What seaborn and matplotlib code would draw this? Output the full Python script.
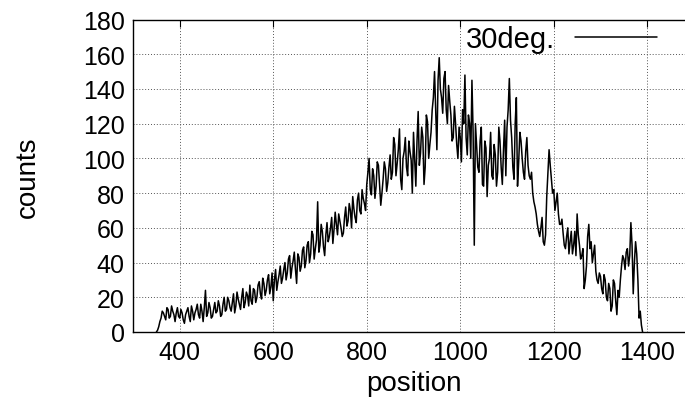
import numpy as np
import pandas as pd
import matplotlib
matplotlib.use("Agg")
import matplotlib.pyplot as plt
import seaborn as sns

# Measured counts for the 30 degree run.
# counts_a are the channels at 350, 355, ..., 1390;
# counts_b are the channels in between at 352.5, 357.5, ..., 1387.5.
positions_a = list(np.arange(350, 1391, 5.0))
counts_a = [
    0, 3, 8, 11, 7, 13, 9, 12, 6, 14,            # 350-395
    8, 11, 5, 12, 9, 15, 7, 13, 10, 16,          # 400-445
    6, 24, 11, 14, 9, 17, 12, 15, 10, 20,        # 450-495
    13, 18, 12, 22, 15, 19, 13, 25, 17, 21,      # 500-545
    27, 16, 24, 20, 29, 19, 28, 24, 33, 26,      # 550-595
    18, 36, 29, 38, 31, 40, 34, 44, 37, 46,      # 600-645
    28, 43, 38, 49, 41, 52, 45, 56, 48, 75,      # 650-695
    50, 58, 44, 63, 55, 66, 59, 62, 68, 60,      # 700-745
    57, 72, 64, 70, 78, 66, 76, 70, 82, 74,      # 750-795
    85, 100, 79, 90, 84, 96, 73, 88, 94, 86,     # 800-845
    102, 92, 108, 97, 117, 82, 104, 95, 110, 99, # 850-895
    115, 84, 127, 103, 112, 95, 121, 108, 128, 150,   # 900-945
    105, 158, 135, 146, 128, 142, 125, 112, 120, 100, # 950-995
    112, 128, 148, 102, 120, 145, 50, 108, 92, 118,   # 1000-1045
    84, 106, 96, 115, 88, 102, 92, 110, 85, 122,      # 1050-1095
    118, 146, 112, 88, 135, 98, 110, 92, 104, 96,     # 1100-1145
    88, 80, 72, 62, 55, 66, 50, 78, 105, 88,          # 1150-1195
    82, 75, 68, 62, 57, 48, 60, 52, 45, 58,           # 1200-1245
    68, 50, 44, 25, 38, 62, 52, 45, 35, 28,           # 1250-1295
    32, 22, 30, 18, 25, 15, 28, 10, 20, 38,           # 1300-1345
    42, 46, 38, 63, 22, 52, 30, 12, 0,                # 1350-1390
]
positions_b = list(np.arange(352.5, 1388, 5.0))
counts_b = [
    1, 6, 12, 9, 14, 8, 15, 10, 11, 9,           # 352.5-397.5
    13, 7, 10, 14, 6, 12, 11, 16, 8, 12,         # 402.5-447.5
    14, 9, 17, 8, 13, 11, 18, 9, 16, 12,         # 452.5-497.5
    20, 14, 17, 11, 23, 16, 20, 14, 23, 15,      # 502.5-547.5
    18, 25, 17, 27, 22, 31, 21, 30, 22, 34,      # 552.5-597.5
    30, 24, 33, 28, 36, 30, 42, 31, 41, 36,      # 602.5-647.5
    45, 35, 47, 37, 50, 40, 58, 42, 53, 46,      # 652.5-697.5
    62, 49, 56, 52, 60, 51, 69, 56, 64, 55,      # 702.5-747.5
    66, 61, 74, 60, 71, 63, 80, 68, 77, 70,      # 752.5-797.5
    92, 82, 94, 77, 98, 85, 80, 98, 81, 95,      # 802.5-847.5
    88, 112, 90, 105, 88, 100, 112, 90, 104, 80, # 852.5-897.5
    100, 110, 96, 118, 85, 125, 100, 115, 135, 128,   # 902.5-947.5
    145, 140, 126, 150, 120, 133, 110, 130, 108, 118, # 952.5-997.5
    98, 120, 112, 125, 100, 115, 120, 95, 110, 85,    # 1002.5-1047.5
    110, 78, 100, 90, 108, 84, 118, 95, 105, 90,      # 1052.5-1097.5
    128, 122, 95, 120, 84, 115, 100, 88, 112, 90,     # 1102.5-1147.5
    92, 75, 68, 58, 60, 52, 56, 92, 96, 80,           # 1152.5-1197.5
    70, 80, 62, 65, 50, 55, 45, 58, 50, 44,           # 1202.5-1247.5
    56, 42, 48, 30, 55, 48, 40, 50, 30, 34,           # 1252.5-1297.5
    25, 33, 20, 28, 12, 30, 18, 24, 30, 44,           # 1302.5-1347.5
    36, 48, 44, 50, 40, 45, 8, 4,                     # 1352.5-1387.5
]
series_label = "30deg."
x_ticks = [400, 600, 800, 1000, 1200, 1400]
y_ticks = [0, 20, 40, 60, 80, 100, 120, 140, 160, 180]

df = pd.DataFrame({
    "position": positions_a + positions_b,
    "counts": counts_a + counts_b,
}).sort_values("position", ignore_index=True)
df["run"] = series_label

sns.set_theme(style="white")
plt.rcParams["font.family"] = ["Liberation Sans", "DejaVu Sans"]
plt.rcParams["text.color"] = "black"
plt.rcParams["axes.labelcolor"] = "black"
TICK_FS = 18
LABEL_FS = 20
LEGEND_FS = 21

fig = plt.figure(figsize=(6.85, 4.14), dpi=100)
ax = fig.add_axes([133 / 685, 81 / 414, (694 - 133) / 685, (333 - 20.5) / 414])

sns.lineplot(data=df, x="position", y="counts", hue="run", palette=["black"],
             linewidth=1.1, ax=ax, legend=True, sort=False)

ax.set_xlim(300, 1500)
ax.set_ylim(0, 180)
ax.set_xticks(x_ticks)
ax.set_yticks(y_ticks)
ax.tick_params(axis="both", direction="in", length=5, width=0.8, colors="black",
               labelsize=TICK_FS, top=True, right=True, pad=6)
ax.grid(True, linestyle=(0, (1, 2)), color="#555555", linewidth=0.7)
for s in ax.spines.values():
    s.set_color("black")
    s.set_linewidth(1.0)

ax.set_xlabel("position", fontsize=LABEL_FS, labelpad=4, color="black")
ax.set_ylabel("counts", fontsize=LABEL_FS, labelpad=30, color="black")

handles, labels = ax.get_legend_handles_labels()
leg = ax.legend(handles, labels, loc="center right", bbox_to_anchor=(657 / 685, 1 - 40 / 414),
                bbox_transform=fig.transFigure, frameon=False, markerfirst=False,
                fontsize=LEGEND_FS, handlelength=2.8, handletextpad=0.7,
                borderpad=0, borderaxespad=0)
for t in leg.get_texts():
    t.set_color("black")

fig.savefig("out.png", dpi=100)
